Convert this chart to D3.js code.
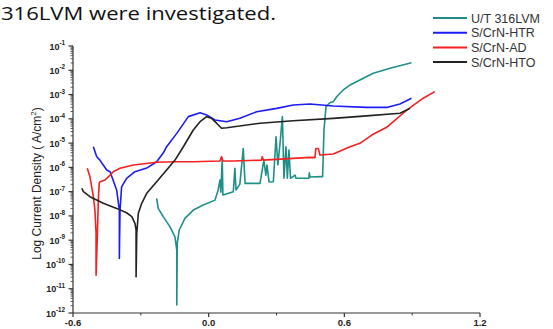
<!DOCTYPE html>
<html>
<head>
<meta charset="utf-8">
<script src="https://cdn.jsdelivr.net/npm/d3@7/dist/d3.min.js"></script>
<style>
  html, body { margin: 0; padding: 0; background: #fff; }
  svg { display: block; }
</style>
</head>
<body>
<svg id="chart" width="553" height="329"></svg>
<script>
// Potentiodynamic polarization curves: potential (V) vs log10 current density (A/cm²)

const seriesNames = ["U/T 316LVM", "S/CrN-HTR", "S/CrN-AD", "S/CrN-HTO"];
const seriesColors = ["#1e8f88", "#1c1cf5", "#f52020", "#222222"];

const xTicks = [-0.6, 0.0, 0.6, 1.2];
const xTickLabels = ["-0.6", "0.0", "0.6", "1.2"];
const yDecades = [-1, -2, -3, -4, -5, -6, -7, -8, -9, -10, -11, -12];

// U/T 316LVM
const utPotential = [-0.230, -0.223, -0.201, -0.171, -0.149, -0.141, -0.141, -0.139, -0.130, -0.105, -0.068, -0.024,
  0.028, 0.042, 0.050, 0.054, 0.060, 0.063, 0.109, 0.116, 0.121, 0.138, 0.153, 0.161, 0.227, 0.244, 0.253, 0.258,
  0.267, 0.286, 0.298, 0.306, 0.315, 0.326, 0.333, 0.342, 0.348, 0.355, 0.362, 0.382, 0.386, 0.443, 0.445, 0.448,
  0.500, 0.504, 0.510, 0.519, 0.536, 0.551, 0.566, 0.595, 0.625, 0.669, 0.728, 0.802, 0.897];
const utLogCurrent = [-7.28, -7.69, -8.03, -8.45, -8.86, -9.41, -11.67, -9.13, -8.58, -8.10, -7.76, -7.55,
  -7.35, -6.93, -6.52, -7.02, -5.63, -7.14, -7.00, -6.04, -6.93, -6.69, -5.22, -6.66, -6.66, -5.70, -6.32, -5.90,
  -6.60, -6.59, -4.74, -5.90, -5.08, -3.91, -6.45, -5.15, -6.45, -5.29, -6.45, -6.32, -6.45, -6.45, -6.22, -6.40,
  -6.38, -6.38, -4.46, -3.50, -3.34, -3.30, -3.09, -2.81, -2.61, -2.40, -2.12, -1.92, -1.69];

// S/CrN-HTR
const htrPotential = [-0.510, -0.495, -0.481, -0.451, -0.436, -0.407, -0.395, -0.395, -0.395, -0.394, -0.392, -0.385,
  -0.363, -0.326, -0.274, -0.230, -0.201, -0.186, -0.141, -0.090, -0.038, -0.009, 0.028, 0.080, 0.138, 0.212,
  0.301, 0.374, 0.448, 0.550, 0.698, 0.787, 0.846, 0.897];
const htrLogCurrent = [-5.15, -5.56, -5.70, -6.11, -6.18, -6.93, -7.76, -8.70, -9.75, -8.99, -7.76, -6.80,
  -6.45, -6.18, -6.03, -5.77, -5.41, -5.15, -4.60, -3.91, -3.75, -3.84, -4.05, -4.12, -3.98, -3.71,
  -3.57, -3.43, -3.39, -3.47, -3.53, -3.53, -3.39, -3.15];

// S/CrN-AD
const adPotential = [-0.537, -0.525, -0.510, -0.503, -0.498, -0.498, -0.492, -0.488, -0.484, -0.481, -0.458, -0.436,
  -0.422, -0.392, -0.333, -0.230, -0.141, -0.068, 0.050, 0.057, 0.063, 0.109, 0.234, 0.237, 0.242, 0.448, 0.470,
  0.474, 0.485, 0.492, 0.551, 0.625, 0.669, 0.721, 0.787, 0.809, 0.860, 0.897, 0.949, 1.000];
const adLogCurrent = [-6.04, -6.39, -7.21, -7.76, -8.72, -10.44, -8.72, -7.35, -6.66, -6.59, -6.52, -6.32,
  -6.18, -6.04, -5.90, -5.79, -5.77, -5.77, -5.74, -5.56, -5.74, -5.74, -5.70, -5.56, -5.70, -5.59, -5.60,
  -5.22, -5.22, -5.49, -5.45, -5.15, -5.01, -4.67, -4.35, -4.18, -3.77, -3.50, -3.15, -2.88];

// S/CrN-HTO
const htoPotential = [-0.561, -0.554, -0.525, -0.466, -0.407, -0.363, -0.340, -0.326, -0.321, -0.321, -0.321, -0.318,
  -0.311, -0.296, -0.274, -0.230, -0.186, -0.149, -0.112, -0.068, -0.038, -0.009, 0.013, 0.035, 0.057, 0.080,
  0.227, 0.374, 0.551, 0.698, 0.846, 0.890];
const htoLogCurrent = [-6.86, -7.00, -7.21, -7.48, -7.69, -7.87, -8.03, -8.31, -8.58, -9.41, -10.51, -8.72,
  -7.89, -7.48, -7.07, -6.59, -6.11, -5.70, -5.15, -4.46, -4.12, -3.91, -3.98, -4.18, -4.39, -4.37,
  -4.18, -4.08, -3.98, -3.88, -3.77, -3.57];

const seriesData = [
  [utPotential, utLogCurrent],
  [htrPotential, htrLogCurrent],
  [adPotential, adLogCurrent],
  [htoPotential, htoLogCurrent]
];

const svg = d3.select("#chart");
const plot = { left: 73, right: 480, top: 46, bottom: 313 };

const x = d3.scaleLinear().domain([-0.6, 1.2]).range([plot.left, plot.right]);
const y = d3.scaleLog().domain([1e-12, 1e-1]).range([plot.bottom, plot.top]);

// Caption line above the figure
svg.append("text")
  .attr("x", 1).attr("y", 20)
  .attr("font-family", "'Open Sans', 'Noto Sans', sans-serif")
  .attr("font-size", 18.5)
  .attr("textLength", 275)
  .attr("lengthAdjust", "spacingAndGlyphs")
  .attr("fill", "#111")
  .text("316LVM were investigated.");

const axisColor = "#333";
const tickFont = "'Liberation Sans', Arial, sans-serif";

// Y axis (log scale with minor ticks)
const gy = svg.append("g");
gy.append("line")
  .attr("x1", plot.left).attr("x2", plot.left)
  .attr("y1", plot.top).attr("y2", plot.bottom)
  .attr("stroke", axisColor).attr("stroke-width", 1.2);

const minorY = [];
for (let e = -12; e < -1; e++) {
  for (let k = 2; k <= 9; k++) minorY.push(k * Math.pow(10, e));
}
gy.selectAll("line.minor").data(minorY).enter().append("line")
  .attr("class", "minor")
  .attr("x1", plot.left - 2.5).attr("x2", plot.left)
  .attr("y1", d => y(d)).attr("y2", d => y(d))
  .attr("stroke", axisColor).attr("stroke-width", 0.8);

gy.selectAll("line.major").data(yDecades).enter().append("line")
  .attr("class", "major")
  .attr("x1", plot.left - 4.5).attr("x2", plot.left)
  .attr("y1", d => y(Math.pow(10, d))).attr("y2", d => y(Math.pow(10, d)))
  .attr("stroke", axisColor).attr("stroke-width", 1.2);

const yLabels = gy.selectAll("text.ylab").data(yDecades).enter().append("text")
  .attr("class", "ylab")
  .attr("x", plot.left - 8)
  .attr("y", d => y(Math.pow(10, d)) + 3.5)
  .attr("text-anchor", "end")
  .attr("font-family", tickFont)
  .attr("font-weight", "bold")
  .attr("font-size", 9)
  .attr("fill", "#222");
yLabels.append("tspan").text("10");
yLabels.append("tspan")
  .attr("dy", -4.5)
  .attr("font-size", 6.3)
  .text(d => String(d));

// X axis
const gx = svg.append("g");
gx.append("line")
  .attr("x1", plot.left).attr("x2", plot.right)
  .attr("y1", plot.bottom).attr("y2", plot.bottom)
  .attr("stroke", axisColor).attr("stroke-width", 1.2);

gx.selectAll("line.major").data(xTicks).enter().append("line")
  .attr("x1", d => x(d)).attr("x2", d => x(d))
  .attr("y1", plot.bottom).attr("y2", plot.bottom + 4)
  .attr("stroke", axisColor).attr("stroke-width", 1.2);

const xMinor = [-0.3, 0.3, 0.9];
gx.selectAll("line.minor").data(xMinor).enter().append("line")
  .attr("x1", d => x(d)).attr("x2", d => x(d))
  .attr("y1", plot.bottom).attr("y2", plot.bottom + 2.5)
  .attr("stroke", axisColor).attr("stroke-width", 1);

gx.selectAll("text").data(xTicks).enter().append("text")
  .attr("x", d => x(d))
  .attr("y", plot.bottom + 13)
  .attr("text-anchor", "middle")
  .attr("font-family", tickFont)
  .attr("font-weight", "bold")
  .attr("font-size", 9.5)
  .attr("fill", "#222")
  .text((d, i) => xTickLabels[i]);

// Y axis title
const yTitle = svg.append("text")
  .attr("transform", `translate(41, ${(plot.top + plot.bottom) / 2 + 4}) rotate(-90)`)
  .attr("text-anchor", "middle")
  .attr("font-family", tickFont)
  .attr("font-size", 12)
  .attr("fill", "#222");
yTitle.append("tspan").text("Log Current Density ( A/cm");
yTitle.append("tspan").attr("dy", -5).attr("font-size", 8).text("2");
yTitle.append("tspan").attr("dy", 5).text(")");

// Curves
const line = d3.line()
  .x(d => x(d[0]))
  .y(d => y(Math.pow(10, d[1])));

seriesData.forEach(([pot, cur], i) => {
  const pts = pot.map((p, j) => [p, cur[j]]);
  svg.append("path")
    .datum(pts)
    .attr("d", line)
    .attr("fill", "none")
    .attr("stroke", seriesColors[i])
    .attr("stroke-width", 1.6)
    .attr("stroke-linejoin", "round");
});

// Legend
const legend = svg.append("g").attr("transform", "translate(433, 18)");
seriesNames.forEach((name, i) => {
  const row = legend.append("g").attr("transform", `translate(0, ${i * 14.7})`);
  row.append("line")
    .attr("x1", 0).attr("x2", 34)
    .attr("y1", 0).attr("y2", 0)
    .attr("stroke", seriesColors[i])
    .attr("stroke-width", 2);
  row.append("text")
    .attr("x", 38).attr("y", 4.5)
    .attr("font-family", tickFont)
    .attr("font-size", 12.5)
    .attr("fill", "#333")
    .text(name);
});
</script>
</body>
</html>
